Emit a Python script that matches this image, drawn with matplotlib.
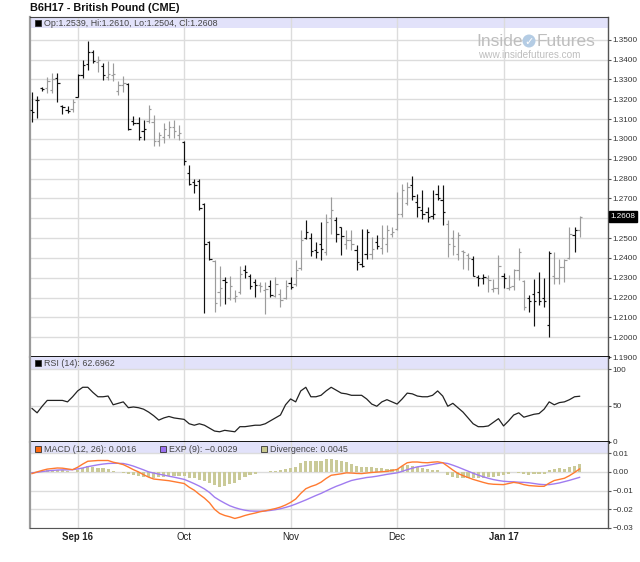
import numpy as np
import matplotlib
matplotlib.use('Agg')
import matplotlib.pyplot as plt
from matplotlib.patches import Rectangle, Ellipse

plt.rcParams['font.family'] = ['Liberation Sans', 'DejaVu Sans']

title = "B6H17 - British Pound (CME)"
ohlc_legend = "Op:1.2539, Hi:1.2610, Lo:1.2504, Cl:1.2608"
rsi_legend = "RSI (14): 62.6962"
macd_legend = "MACD (12, 26): 0.0016"
exp_legend = "EXP (9): \u22120.0029"
div_legend = "Divergence: 0.0045"
last_price = 1.2608

opens = [1.3145,1.3198,1.3258,1.3255,1.3245,1.3305,1.3168,1.3148,1.3150,1.3210,
         1.3320,1.3380,1.3440,1.3390,1.3370,1.3310,1.3320,1.3240,1.3270,1.3275,
         1.3090,1.3080,1.3040,1.3090,1.3085,1.2990,1.3010,1.3020,1.3060,1.3020,
         1.2985,1.2830,1.2785,1.2790,1.2670,1.2480,1.2385,1.2230,1.2290,1.2200,
         1.2200,1.2230,1.2340,1.2310,1.2280,1.2262,1.2240,1.2260,1.2210,1.2220,
         1.2200,1.2275,1.2270,1.2350,1.2500,1.2500,1.2440,1.2470,1.2430,1.2600,
         1.2590,1.2555,1.2470,1.2490,1.2440,1.2370,1.2420,1.2420,1.2480,1.2450,
         1.2470,1.2520,1.2545,1.2620,1.2675,1.2766,1.2680,1.2640,1.2630,1.2610,
         1.2720,1.2690,1.2573,1.2500,1.2420,1.2435,1.2415,1.2395,1.2305,1.2298,
         1.2300,1.2245,1.2250,1.2310,1.2250,1.2260,1.2340,1.2285,1.2200,1.2220,
         1.2230,1.2200,1.2060,1.2310,1.2300,1.2355,1.2398,1.2515,1.2539]
highs = [1.3236,1.3214,1.3261,1.3310,1.3332,1.3332,1.3170,1.3168,1.3200,1.3327,
         1.3399,1.3495,1.3450,1.3416,1.3382,1.3391,1.3382,1.3290,1.3315,1.3281,
         1.3118,1.3113,1.3096,1.3172,1.3122,1.3037,1.3079,1.3088,1.3096,1.3071,
         1.2990,1.2869,1.2800,1.2797,1.2677,1.2485,1.2390,1.2357,1.2303,1.2307,
         1.2236,1.2357,1.2365,1.2320,1.2295,1.2278,1.2278,1.2287,1.2303,1.2244,
         1.2287,1.2303,1.2391,1.2539,1.2589,1.2526,1.2480,1.2581,1.2623,1.2707,
         1.2606,1.2556,1.2539,1.2539,1.2463,1.2547,1.2547,1.2505,1.2514,1.2564,
         1.2564,1.2556,1.2732,1.2775,1.2783,1.2812,1.2724,1.2741,1.2657,1.2741,
         1.2766,1.2766,1.2590,1.2539,1.2531,1.2438,1.2425,1.2408,1.2312,1.2320,
         1.2312,1.2295,1.2413,1.2324,1.2312,1.2346,1.2452,1.2290,1.2211,1.2295,
         1.2330,1.2300,1.2435,1.2430,1.2396,1.2396,1.2556,1.2556,1.2610]
lows = [1.3085,1.3105,1.3244,1.3231,1.3231,1.3185,1.3125,1.3130,1.3138,1.3209,
        1.3307,1.3348,1.3382,1.3340,1.3298,1.3298,1.3290,1.3222,1.3239,1.3045,
        1.3071,1.2995,1.2995,1.3079,1.2962,1.2962,1.2978,1.3004,1.3004,1.2995,
        1.2869,1.2768,1.2729,1.2643,1.2121,1.2388,1.2126,1.2157,1.2169,1.2186,
        1.2177,1.2219,1.2300,1.2244,1.2205,1.2227,1.2118,1.2202,1.2202,1.2152,
        1.2194,1.2244,1.2256,1.2337,1.2497,1.2408,1.2400,1.2388,1.2412,1.2522,
        1.2480,1.2412,1.2446,1.2438,1.2337,1.2354,1.2396,1.2396,1.2446,1.2421,
        1.2430,1.2505,1.2539,1.2606,1.2665,1.2690,1.2606,1.2598,1.2581,1.2598,
        1.2690,1.2564,1.2405,1.2413,1.2388,1.2346,1.2337,1.2307,1.2256,1.2270,
        1.2228,1.2228,1.2219,1.2250,1.2236,1.2236,1.2287,1.2138,1.2127,1.2054,
        1.2160,1.2150,1.2000,1.2270,1.2270,1.2278,1.2396,1.2430,1.2504]
closes = [1.3138,1.3195,1.3250,1.3290,1.3300,1.3280,1.3162,1.3143,1.3185,1.3320,
          1.3375,1.3440,1.3395,1.3400,1.3320,1.3330,1.3330,1.3270,1.3280,1.3050,
          1.3080,1.3010,1.3050,1.3150,1.2990,1.3020,1.3050,1.3060,1.3040,1.3030,
          1.2890,1.2775,1.2770,1.2650,1.2470,1.2395,1.2170,1.2250,1.2280,1.2260,
          1.2210,1.2320,1.2330,1.2260,1.2265,1.2260,1.2245,1.2215,1.2270,1.2190,
          1.2260,1.2255,1.2340,1.2490,1.2530,1.2435,1.2432,1.2445,1.2580,1.2640,
          1.2520,1.2510,1.2490,1.2470,1.2380,1.2360,1.2530,1.2445,1.2460,1.2500,
          1.2540,1.2530,1.2620,1.2741,1.2760,1.2710,1.2655,1.2620,1.2605,1.2620,
          1.2700,1.2630,1.2469,1.2459,1.2515,1.2430,1.2400,1.2310,1.2300,1.2305,
          1.2290,1.2250,1.2360,1.2300,1.2255,1.2340,1.2430,1.2150,1.2180,1.2180,
          1.2180,1.2180,1.2425,1.2300,1.2352,1.2390,1.2520,1.2540,1.2608]
bar_gray = [0,0,0,1,1,0,0,0,1,0,
            0,0,0,1,0,1,1,1,1,0,
            0,0,0,1,1,1,1,1,1,1,
            0,0,0,0,0,0,1,1,0,1,
            1,1,0,0,0,1,1,0,1,1,
            1,0,1,1,0,0,0,0,1,1,
            0,0,1,1,0,0,0,1,0,1,
            1,1,1,1,1,0,0,0,0,0,
            0,0,1,1,1,1,1,0,0,0,
            1,1,1,0,1,1,1,1,0,0,
            0,0,0,1,1,1,1,0,1]
rsi = [46,40,49,57,57,57,57,55,62,70,
       75,75,68,62,62,63,51,53,55,47,
       48,47,45,41,36,30,33,35,33,32,
       31,25,23,25,23,19,15,14,16,15,
       14,21,21,22,23,23,25,29,33,37,
       51,59,55,70,75,62,62,64,70,75,
       71,67,66,64,64,64,59,52,49,55,
       58,55,52,59,67,66,63,62,62,64,
       70,63,49,53,47,41,33,25,21,21,
       22,27,32,22,29,37,40,34,36,38,
       39,45,55,51,54,55,58,62,62.7]
macd = [-0.0009,0.0000,0.0008,0.0015,0.0018,0.0021,0.0020,0.0016,0.0012,0.0025,
        0.0042,0.0057,0.0059,0.0061,0.0061,0.0061,0.0052,0.0046,0.0039,0.0026,
        0.0012,0.0000,-0.0015,-0.0028,-0.0038,-0.0041,-0.0044,-0.0047,-0.0052,-0.0057,
        -0.0062,-0.0082,-0.0098,-0.0120,-0.0140,-0.0165,-0.0200,-0.0222,-0.0233,-0.0240,
        -0.0249,-0.0242,-0.0233,-0.0226,-0.0220,-0.0213,-0.0208,-0.0202,-0.0196,-0.0188,
        -0.0177,-0.0163,-0.0145,-0.0115,-0.0090,-0.0078,-0.0069,-0.0055,-0.0035,-0.0018,
        -0.0014,-0.0010,-0.0005,-0.0006,-0.0008,-0.0009,-0.0006,-0.0003,-0.0001,0.0001,
        0.0003,0.0008,0.0013,0.0032,0.0049,0.0053,0.0053,0.0050,0.0049,0.0052,
        0.0054,0.0049,0.0030,0.0010,-0.0008,-0.0020,-0.0030,-0.0040,-0.0048,-0.0056,
        -0.0063,-0.0066,-0.0067,-0.0068,-0.0062,-0.0056,-0.0060,-0.0068,-0.0073,-0.0075,
        -0.0077,-0.0077,-0.0060,-0.0046,-0.0040,-0.0034,-0.0020,-0.0003,0.0016]
signal = [-0.0005,-0.0002,0.0002,0.0005,0.0008,0.0010,0.0011,0.0011,0.0012,0.0016,
          0.0021,0.0028,0.0033,0.0038,0.0042,0.0045,0.0046,0.0046,0.0045,0.0039,
          0.0031,0.0021,0.0011,0.0000,-0.0006,-0.0012,-0.0017,-0.0023,-0.0028,-0.0034,
          -0.0040,-0.0051,-0.0063,-0.0076,-0.0091,-0.0110,-0.0135,-0.0152,-0.0167,-0.0181,
          -0.0191,-0.0199,-0.0205,-0.0209,-0.0210,-0.0210,-0.0209,-0.0206,-0.0202,-0.0197,
          -0.0190,-0.0182,-0.0172,-0.0161,-0.0150,-0.0138,-0.0126,-0.0115,-0.0102,-0.0089,
          -0.0077,-0.0067,-0.0056,-0.0046,-0.0040,-0.0035,-0.0030,-0.0027,-0.0023,-0.0018,
          -0.0013,-0.0009,-0.0005,0.0003,0.0012,0.0020,0.0027,0.0031,0.0035,0.0040,
          0.0045,0.0049,0.0045,0.0036,0.0026,0.0015,0.0004,-0.0007,-0.0017,-0.0026,
          -0.0034,-0.0041,-0.0046,-0.0050,-0.0052,-0.0053,-0.0055,-0.0056,-0.0058,-0.0062,
          -0.0066,-0.0068,-0.0068,-0.0064,-0.0059,-0.0052,-0.0045,-0.0037,-0.0029]
divergence = [-0.0004,0.0002,0.0006,0.0010,0.0010,0.0011,0.0009,0.0005,0.0000,0.0009,
              0.0021,0.0029,0.0026,0.0023,0.0019,0.0016,0.0006,0.0000,-0.0006,-0.0013,
              -0.0019,-0.0021,-0.0026,-0.0028,-0.0032,-0.0029,-0.0027,-0.0024,-0.0024,-0.0023,
              -0.0022,-0.0031,-0.0035,-0.0044,-0.0049,-0.0058,-0.0072,-0.0080,-0.0075,-0.0062,
              -0.0058,-0.0043,-0.0028,-0.0017,-0.0010,-0.0003,0.0001,0.0004,0.0006,0.0009,
              0.0013,0.0019,0.0027,0.0046,0.0060,0.0060,0.0057,0.0060,0.0067,0.0071,
              0.0063,0.0057,0.0051,0.0040,0.0032,0.0026,0.0024,0.0024,0.0022,0.0019,
              0.0016,0.0017,0.0018,0.0029,0.0037,0.0033,0.0026,0.0019,0.0014,0.0012,
              0.0009,0.0001,-0.0015,-0.0026,-0.0034,-0.0035,-0.0034,-0.0033,-0.0031,-0.0030,
              -0.0029,-0.0025,-0.0021,-0.0018,-0.0010,-0.0003,-0.0005,-0.0012,-0.0015,-0.0013,
              -0.0011,-0.0009,0.0008,0.0018,0.0019,0.0018,0.0025,0.0034,0.0045]

month_pos = [9, 30, 51, 72, 93]
month_labels = ['Sep 16', 'Oct', 'Nov', 'Dec', 'Jan 17']
month_bold = [True, False, False, False, True]
price_ticks = [1.19, 1.20, 1.21, 1.22, 1.23, 1.24, 1.25, 1.26, 1.27, 1.28,
               1.29, 1.30, 1.31, 1.32, 1.33, 1.34, 1.35]
price_labels = ['1.1900', '1.2000', '1.2100', '1.2200', '1.2300', '1.2400', '1.2500', '',
                '1.2700', '1.2800', '1.2900', '1.3000', '1.3100', '1.3200', '1.3300',
                '1.3400', '1.3500']
rsi_ticks = [0, 50, 100]
rsi_labels = ['0', '50', '100']
macd_ticks = [-0.03, -0.02, -0.01, 0.0, 0.01]
macd_labels = ['\u22120.03', '\u22120.02', '\u22120.01', '0.00', '0.01']

# ---------------- layout ----------------
W, H = 640, 562
fig = plt.figure(figsize=(6.4, 5.62), dpi=100)
fig.patch.set_facecolor('white')

def fx(xp):
    return xp / W

def fy(yp):
    return 1 - yp / H

L, R = 30, 608
ax1 = fig.add_axes([fx(L), fy(357), (R - L) / W, (357 - 17) / H])
ax2 = fig.add_axes([fx(L), fy(442), (R - L) / W, (442 - 357) / H], sharex=ax1)
ax3 = fig.add_axes([fx(L), fy(528), (R - L) / W, (528 - 442) / H], sharex=ax1)

n = len(closes)
x = np.arange(n)
grid_c = '#DCDCDC'
band_c = '#E2E2FA'
tick_fs = 5.9

for ax in (ax1, ax2, ax3):
    ax.set_facecolor('white')
    ax.set_axisbelow(True)
    ax.yaxis.tick_right()
    ax.tick_params(axis='y', direction='out', length=2.4, width=0.8, color='#555555',
                   labelsize=tick_fs, labelcolor='#333333', pad=0.8)
    ax.tick_params(axis='x', length=0)
    ax.set_xticks(month_pos)
    ax.grid(True, color=grid_c, linewidth=1.0)
    ax.spines['left'].set_color('#9A9A9A')
    ax.spines['left'].set_linewidth(1.6)
    ax.spines['right'].set_color('#555555')
    ax.spines['right'].set_linewidth(1.0)

ax1.set_xlim(-0.4, 113.6)

# ---- price panel ----
ax1.set_ylim(1.19, 1.3615)
ax1.set_yticks(price_ticks)
ax1.set_yticklabels(price_labels)
ax1.tick_params(axis='x', labelbottom=False)
ax1.spines['top'].set_color('#444444')
ax1.spines['bottom'].set_color('black')
ax1.spines['bottom'].set_linewidth(2)
ax1.add_patch(Rectangle((0, 1 - 11 / 340), 1, 11 / 340, transform=ax1.transAxes,
                        facecolor=band_c, edgecolor='none', zorder=0.4))

cols = ['#9C9C9C' if g else '#111111' for g in bar_gray]
tk = 0.45
ax1.vlines(x, lows, highs, colors=cols, linewidth=0.85, zorder=3)
ax1.hlines(opens, x - tk, x, colors=cols, linewidth=0.85, zorder=3)
ax1.hlines(closes, x, x + tk, colors=cols, linewidth=0.85, zorder=3)

ax1.annotate(f'{last_price:.4f}', xy=(1.0, last_price),
             xycoords=('axes fraction', 'data'), xytext=(2.0, 0),
             textcoords='offset points', ha='left', va='center',
             fontsize=tick_fs, color='white', annotation_clip=False,
             bbox=dict(boxstyle='square,pad=0.2', fc='black', ec='black'))

# ---- RSI panel ----
ax2.set_ylim(0, 116.5)
ax2.set_yticks(rsi_ticks)
ax2.set_yticklabels(rsi_labels)
ax2.tick_params(axis='x', labelbottom=False)
ax2.spines['top'].set_visible(False)
ax2.spines['bottom'].set_color('black')
ax2.spines['bottom'].set_linewidth(2)
ax2.add_patch(Rectangle((0, 1 - 11.5 / 85), 1, 11.5 / 85, transform=ax2.transAxes,
                        facecolor=band_c, edgecolor='none', zorder=0.4))
ax2.plot(x, rsi, color='#222222', linewidth=0.9, zorder=3)

# ---- MACD panel ----
ax3.set_ylim(-0.03, 0.0160)
ax3.set_yticks(macd_ticks)
ax3.set_yticklabels(macd_labels)
ax3.spines['top'].set_visible(False)
ax3.spines['bottom'].set_color('#555555')
ax3.add_patch(Rectangle((0, 1 - 10.5 / 86), 1, 10.5 / 86, transform=ax3.transAxes,
                        facecolor=band_c, edgecolor='none', zorder=0.4))
ax3.bar(x, divergence, width=0.62, color='#CACA98', zorder=2)
ax3.plot(x, signal, color='#A07CF0', linewidth=1.0, zorder=3)
ax3.plot(x, macd, color='#FF7A30', linewidth=1.0, zorder=4)
ax3.set_xticklabels(month_labels)
ax3.tick_params(axis='x', labelsize=6.9, labelcolor='#222222', pad=3)
for lab, b in zip(ax3.get_xticklabels(), month_bold):
    lab.set_fontweight('bold' if b else 'normal')

# ---- texts ----
fig.text(fx(30), fy(8), title, fontsize=7.8, fontweight='bold', color='#111111',
         ha='left', va='center')

def legend_item(xp, yp, color, text):
    fig.patches.append(Rectangle((fx(xp), fy(yp + 3)), 6 / W, 6 / H,
                                 transform=fig.transFigure, facecolor=color,
                                 edgecolor='#333333', linewidth=0.6, zorder=5))
    fig.text(fx(xp + 9), fy(yp), text, fontsize=6.4, color='#444444',
             ha='left', va='center', zorder=6)

legend_item(35, 23, 'black', ohlc_legend)
legend_item(35, 363, 'black', rsi_legend)
legend_item(35, 449, '#FF6A10', macd_legend)
legend_item(160, 449, '#9A70F0', exp_legend)
legend_item(261, 449, '#C8C890', div_legend)

# watermark
wm = '#BEBEBE'
fig.text(fx(476), fy(42), 'Inside', fontsize=12.5, color=wm, ha='left', va='center')
fig.patches.append(Ellipse((fx(529), fy(41)), 13 / W, 13 / H, transform=fig.transFigure,
                           facecolor='#B4CCE4', edgecolor='none', zorder=5))
fig.text(fx(529), fy(41.5), '\u2713', fontsize=8, color='white', ha='center',
         va='center', family=['DejaVu Sans'], zorder=6)
fig.text(fx(537), fy(42), 'Futures', fontsize=12.5, color=wm, ha='left', va='center')
fig.text(fx(478), fy(55), 'www.insidefutures.com', fontsize=7.2, color=wm,
         ha='left', va='center')

fig.savefig('out.png', dpi=100, facecolor='white')
